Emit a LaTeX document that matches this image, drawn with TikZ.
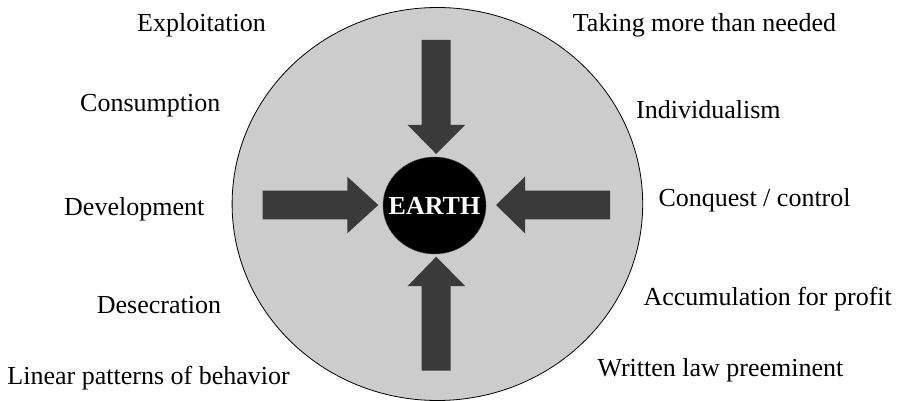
\documentclass[tikz,border=0pt]{standalone}
\usepackage{fontspec}
\setmainfont{Liberation Serif}
\usepackage{xcolor}
\definecolor{ringgray}{RGB}{204,204,204}
\definecolor{pushgray}{RGB}{58,58,58}
\usepackage{tikz}
\usetikzlibrary{shapes.geometric, positioning}

\begin{document}
\begin{tikzpicture}[
    x=1pt, y=-1pt,
    ring/.style={draw=black, line width=0.8pt, fill=ringgray},
    earth/.style={
      ellipse, draw=black!70, fill=black,
      minimum width=103pt, minimum height=97pt,
      font=\fontsize{26}{30}\selectfont\bfseries, text=white,
      inner sep=0pt
    },
    push/.style={fill=pushgray},
    label/.style={font=\fontsize{26}{30}\selectfont, anchor=base west, inner sep=0pt}
  ]
  \useasboundingbox (0,0) rectangle (903,401);

  % Outer ring
  \draw[ring] (437.4,204) ellipse [x radius=205.3, y radius=196.5];

  % Arrows towards the centre
  \fill[push] (421.7,40) -- (450.7,40) -- (450.7,125) -- (465,125) -- (436.2,154)
              -- (407.7,125) -- (421.7,125) -- cycle;
  \fill[push] (421.7,370.7) -- (450.7,370.7) -- (450.7,286) -- (465,286) -- (436.2,256.7)
              -- (407.7,286) -- (421.7,286) -- cycle;
  \fill[push] (262.7,190.7) -- (347.3,190.7) -- (347.3,176.7) -- (378.3,205)
              -- (347.3,233.3) -- (347.3,219.3) -- (262.7,219.3) -- cycle;
  \fill[push] (610,190.7) -- (525,190.7) -- (525,176.7) -- (496,205)
              -- (525,233.3) -- (525,219.3) -- (610,219.3) -- cycle;

  % Centre
  \node[earth] (earth) at (434.5,205.5) {\makebox[0pt]{EARTH}};

  % Left labels
  \node[label] (exploit)  at (137,31.7)  {Exploitation};
  \node[label] (consume)  at (80,111.7)  {Consumption};
  \node[label] (develop)  at (64,215)    {Development};
  \node[label] (desecr)   at (96.7,313.3) {Desecration};
  \node[label] (linear)   at (7.3,384)   {Linear patterns of behavior};

  % Right labels
  \node[label] (taking)   at (572.7,31.7) {Taking more than needed};
  \node[label] (individ)  at (636,119)    {Individualism};
  \node[label] (conquest) at (658.3,206.7) {Conquest / control};
  \node[label] (accum)    at (643.3,305)  {Accumulation for profit};
  \node[label] (written)  at (597.3,376)  {Written law preeminent};

\end{tikzpicture}
\end{document}
